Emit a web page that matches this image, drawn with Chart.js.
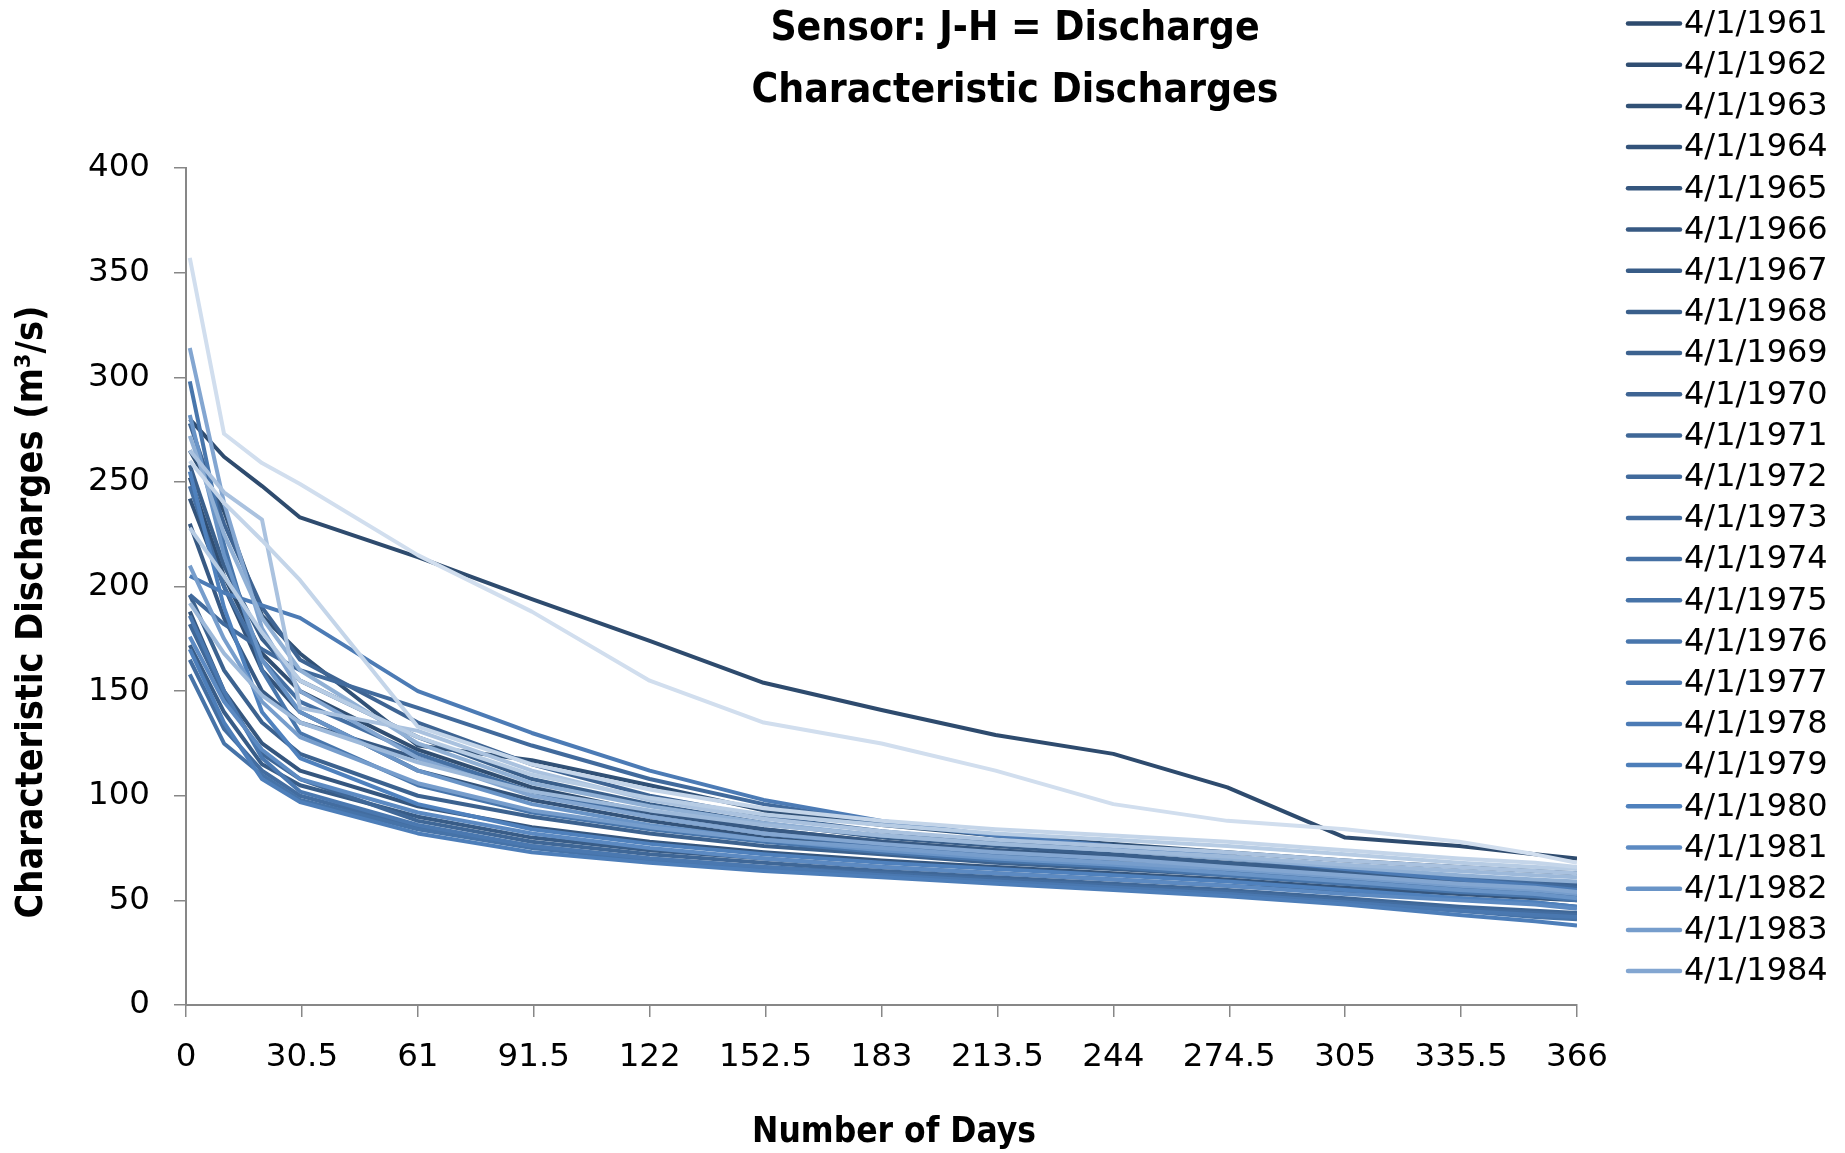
<!DOCTYPE html>
<html>
<head>
<meta charset="utf-8">
<script src="https://cdn.jsdelivr.net/npm/chart.js@4.4.1/dist/chart.umd.min.js"></script>
<style>
  html, body { margin: 0; padding: 0; background: #ffffff; overflow: hidden; }
  canvas { display: block; }
</style>
</head>
<body>
<canvas id="chart" width="1845" height="1153"></canvas>
<script>
// Days of the year at which the characteristic discharges are given
const days = [1, 10, 20, 30, 61, 91, 122, 152, 183, 213, 244, 274, 305, 335, 355, 366];

// Axis tick values
const dayTicks = [0, 30.5, 61, 91.5, 122, 152.5, 183, 213.5, 244, 274.5, 305, 335.5, 366];
const dischargeTicks = [0, 50, 100, 150, 200, 250, 300, 350, 400];

// Hydrological years (start date 4/1)
const years = [1961, 1962, 1963, 1964, 1965, 1966, 1967, 1968, 1969, 1970,
               1971, 1972, 1973, 1974, 1975, 1976, 1977, 1978, 1979, 1980,
               1981, 1982, 1983, 1984, 1985, 1986, 1987, 1988, 1989, 1990];

// Characteristic discharges (m3/s), one array per year
const q1961 = [280, 262, 248, 233, 214, 194, 174, 154, 141, 129, 120, 104, 80, 76, 72, 70];
const q1962 = [252, 205, 168, 150, 122, 104, 92, 84, 78, 74, 70, 66, 62, 58, 56, 54];
const q1963 = [265, 236, 186, 168, 124, 117, 105, 93, 86, 81, 77, 73, 69, 66, 64, 63];
const q1964 = [242, 200, 160, 140, 112, 98, 88, 80, 75, 71, 68, 64, 60, 57, 55, 53];
const q1965 = [188, 150, 125, 112, 95, 85, 78, 73, 69, 66, 63, 60, 56, 53, 51, 50];
const q1966 = [230, 185, 150, 135, 118, 102, 92, 84, 78, 74, 71, 67, 63, 59, 57, 55];
const q1967 = [172, 140, 115, 105, 90, 80, 74, 70, 66, 63, 60, 57, 54, 51, 49, 47];
const q1968 = [258, 210, 175, 155, 128, 108, 96, 87, 80, 76, 72, 68, 64, 60, 58, 57];
const q1969 = [196, 160, 135, 120, 100, 90, 82, 76, 72, 68, 65, 62, 58, 55, 53, 51];
const q1970 = [278, 230, 190, 165, 135, 115, 100, 90, 83, 78, 74, 70, 65, 61, 59, 58];
const q1971 = [182, 148, 120, 108, 88, 78, 72, 68, 64, 61, 58, 55, 51, 47, 45, 44];
const q1972 = [196, 182, 170, 160, 142, 124, 108, 96, 87, 81, 76, 71, 66, 61, 58, 56];
const q1973 = [165, 132, 112, 100, 85, 76, 70, 66, 63, 60, 57, 54, 50, 46, 44, 43];
const q1974 = [248, 200, 165, 145, 120, 102, 90, 82, 76, 72, 68, 64, 60, 56, 54, 52];
const q1975 = [158, 125, 110, 98, 84, 75, 69, 65, 62, 59, 56, 53, 49, 45, 42, 41];
const q1976 = [298, 220, 160, 130, 105, 92, 84, 78, 73, 69, 66, 62, 58, 54, 52, 50];
const q1977 = [186, 150, 118, 102, 86, 76, 70, 66, 62, 59, 56, 53, 49, 45, 43, 42];
const q1978 = [205, 197, 191, 185, 150, 130, 112, 98, 88, 81, 76, 71, 65, 60, 57, 55];
const q1979 = [170, 135, 108, 97, 82, 73, 68, 64, 61, 58, 55, 52, 48, 43, 40, 38];
const q1980 = [255, 190, 140, 118, 96, 84, 77, 72, 68, 65, 62, 59, 55, 51, 49, 47];
const q1981 = [176, 145, 122, 108, 92, 82, 75, 70, 66, 63, 60, 57, 53, 50, 48, 46];
const q1982 = [282, 215, 165, 140, 112, 96, 86, 79, 74, 70, 67, 63, 59, 55, 53, 51];
const q1983 = [210, 175, 145, 128, 106, 93, 85, 79, 75, 71, 68, 65, 61, 57, 55, 53];
const q1984 = [314, 240, 180, 150, 118, 100, 90, 82, 77, 73, 70, 66, 62, 58, 56, 54];
const q1985 = [272, 225, 185, 160, 125, 106, 95, 87, 81, 77, 74, 70, 66, 62, 60, 59];
const q1986 = [192, 168, 148, 135, 116, 102, 93, 86, 81, 77, 74, 71, 67, 64, 62, 61];
const q1987 = [265, 245, 232, 142, 131, 112, 98, 89, 83, 79, 76, 73, 69, 66, 64, 63];
const q1988 = [228, 205, 178, 155, 128, 110, 99, 91, 86, 82, 79, 76, 72, 68, 66, 65];
const q1989 = [260, 240, 222, 203, 133, 115, 103, 94, 88, 84, 81, 78, 74, 70, 68, 66];
const q1990 = [357, 273, 259, 249, 215, 188, 155, 135, 125, 112, 96, 88, 84, 78, 72, 68];

const series = [q1961, q1962, q1963, q1964, q1965, q1966, q1967, q1968, q1969, q1970,
                q1971, q1972, q1973, q1974, q1975, q1976, q1977, q1978, q1979, q1980,
                q1981, q1982, q1983, q1984, q1985, q1986, q1987, q1988, q1989, q1990];

// Number of entries that fit in the legend column
const legendEntries = 24;

// Monochrome blue ramp: shades of the base blue first, then tints
function seriesColor(i, n) {
  const base = [79, 129, 189];
  const mid = 19;
  let rgb;
  if (i <= mid) {
    const s = 0.58 + 0.42 * i / mid;
    rgb = base.map(c => Math.round(c * s));
  } else {
    const t = 0.74 * (i - mid) / (n - 1 - mid);
    rgb = base.map(c => Math.round(c + (255 - c) * t));
  }
  return 'rgb(' + rgb.join(',') + ')';
}

const AXIS_GREY = '#878787';
const TICK_FONT = { family: 'DejaVu Sans', size: 32.5 };

// Titles, axis titles and legend column
const textPlugin = {
  id: 'chartText',
  afterDraw(chart) {
    const ctx = chart.ctx;
    ctx.save();
    ctx.fillStyle = '#000000';
    ctx.textAlign = 'center';
    ctx.textBaseline = 'middle';
    ctx.font = 'bold 40.5px "DejaVu Sans Condensed", "DejaVu Sans"';
    ctx.fillText('Sensor: J-H = Discharge', 1015, 29);
    ctx.fillText('Characteristic Discharges', 1015, 91);

    ctx.font = 'bold 35px "DejaVu Sans Condensed", "DejaVu Sans"';
    ctx.fillText('Number of Days', 894, 1133);
    ctx.save();
    ctx.translate(32, 612);
    ctx.rotate(-Math.PI / 2);
    ctx.font = 'bold 37.5px "DejaVu Sans Condensed", "DejaVu Sans"';
    ctx.fillText('Characteristic Discharges (m\u00B3/s)', 0, 0);
    ctx.restore();

    // legend
    const ds = chart.data.datasets;
    ctx.font = '32px "DejaVu Sans"';
    ctx.textAlign = 'left';
    for (let i = 0; i < Math.min(legendEntries, ds.length); i++) {
      const y = 23.5 + i * 41.2;
      ctx.strokeStyle = ds[i].borderColor;
      ctx.lineWidth = 4.5;
      ctx.lineCap = 'round';
      ctx.beginPath();
      ctx.moveTo(1628, y);
      ctx.lineTo(1680, y);
      ctx.stroke();
      ctx.fillStyle = '#000000';
      ctx.fillText(ds[i].label, 1684, y + 1);
    }
    ctx.restore();
  }
};

const datasets = years.map((yr, i) => ({
  label: '4/1/' + yr,
  data: series[i].map((q, k) => ({ x: days[k], y: q })),
  borderColor: seriesColor(i, years.length),
  backgroundColor: seriesColor(i, years.length),
  borderWidth: 4,
  borderJoinStyle: 'round',
  pointRadius: 0,
  pointHoverRadius: 0,
  fill: false,
  tension: 0,
  order: years.length - i
}));

new Chart(document.getElementById('chart'), {
  type: 'line',
  data: { datasets },
  options: {
    responsive: false,
    animation: false,
    devicePixelRatio: 1,
    layout: { padding: { top: 168, right: 268, bottom: 0, left: 0 } },
    plugins: {
      legend: { display: false },
      title: { display: false },
      tooltip: { enabled: false }
    },
    scales: {
      x: {
        type: 'linear',
        min: 0,
        max: 366,
        afterBuildTicks: s => { s.ticks = dayTicks.map(v => ({ value: v })); },
        afterFit: s => { s.height = 148; },
        ticks: {
          callback: v => String(v),
          font: TICK_FONT,
          color: '#000000',
          padding: 21,
          maxRotation: 0,
          autoSkip: false
        },
        grid: { drawOnChartArea: false, drawTicks: true, tickLength: 12, color: AXIS_GREY, lineWidth: 1.5 },
        border: { display: true, color: AXIS_GREY, width: 2 }
      },
      y: {
        type: 'linear',
        min: 0,
        max: 400,
        afterBuildTicks: s => { s.ticks = dischargeTicks.map(v => ({ value: v })); },
        afterFit: s => { s.width = 186; },
        ticks: {
          callback: v => String(v),
          font: TICK_FONT,
          color: '#000000',
          padding: 24,
          autoSkip: false
        },
        grid: { drawOnChartArea: false, drawTicks: true, tickLength: 12, color: AXIS_GREY, lineWidth: 1.5 },
        border: { display: true, color: AXIS_GREY, width: 2 }
      }
    }
  },
  plugins: [textPlugin]
});
</script>
</body>
</html>
